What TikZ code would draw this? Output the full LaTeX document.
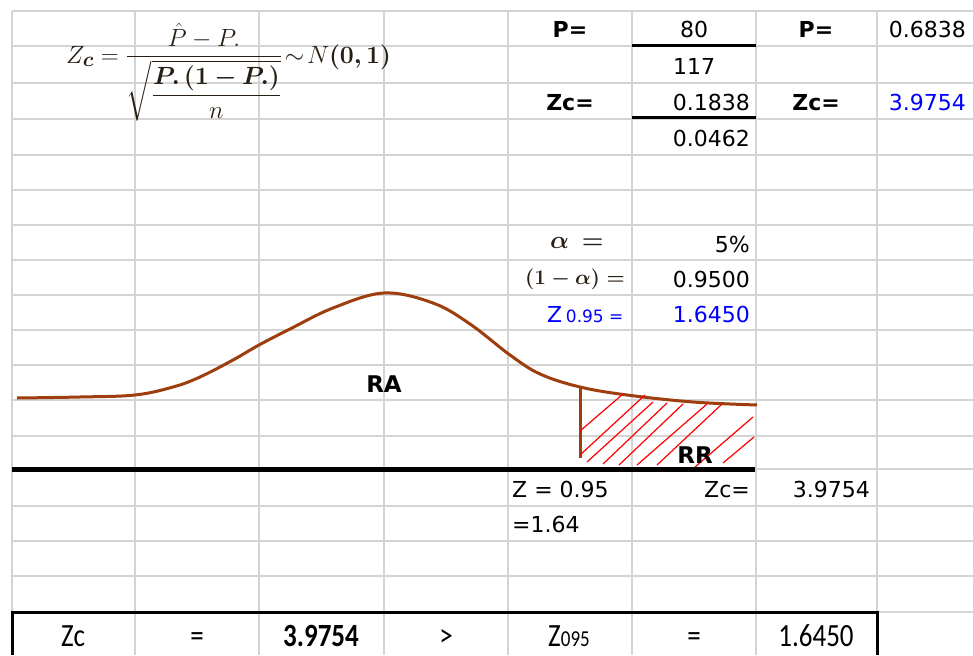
\documentclass[tikz,border=0pt]{standalone}
\usepackage{amsmath,bm}
\usepackage{graphicx}
\usepackage{fontspec}
\newfontfamily\dvfont{DejaVu Sans}
\newfontfamily\clfont{Carlito}
\definecolor{gridgray}{RGB}{212,212,212}
\definecolor{curvebrown}{RGB}{158,62,14}
\definecolor{xblue}{RGB}{0,0,255}
\definecolor{mathdark}{RGB}{40,30,20}
\begin{document}
\begin{tikzpicture}[x=1pt,y=-1pt,
  gridline/.style={draw=gridgray, line width=1.5pt},
  thickrule/.style={draw=black, line width=3pt},
  curveline/.style={draw=curvebrown, line width=3pt},
  hatchline/.style={draw=red, line width=1.2pt},
  txt/.style={font=\dvfont\fontsize{22}{26}\selectfont, inner sep=0pt, anchor=base},
  txtr/.style={txt, anchor=base east},
  txtl/.style={txt, anchor=base west},
  boldtxt/.style={txt, font=\dvfont\bfseries\fontsize{22}{26}\selectfont},
  bigbold/.style={txt, font=\dvfont\bfseries\fontsize{23}{26}\selectfont},
  bottomtxt/.style={font=\clfont\fontsize{27}{30}\selectfont, inner sep=0pt, anchor=base},
  mathtxt/.style={text=mathdark, inner sep=0pt}
]
\useasboundingbox (0,0) rectangle (973,655);
\fill[white] (0,0) rectangle (973,655);
% grid
\foreach \x in {12,135,259,384,508,632,756,877}
  \draw[gridline] (\x,11) -- (\x,655);
\foreach \y in {11,46,83,119,155,190,225,260,295,330,365,400,436,469,506,541,576,612}
  \draw[gridline] (12,\y) -- (973,\y);
% thick rules
\draw[thickrule] (632,46) -- (756,46);
\draw[thickrule] (632,118) -- (756,118);
\draw[draw=black, line width=5pt] (12,469) -- (755,469);
\draw[thickrule] (12,655) -- (12,612) -- (877,612) -- (877,655);

% formula
\node[mathtxt, anchor=west, font=\fontsize{28}{32}\selectfont] (formula) at (66,72)
  {$Z_{\bm{c}} = \dfrac{\hat{P} - P.}{\sqrt{\dfrac{\bm{P.\,(1-P.)}}{n}}}\!\sim\! N\bm{(0,1)}$};

% top right values
\node[boldtxt] (pA) at (570,38) {P=};
\node[txt] (v80) at (694,38) {80};
\node[txt] (v117) at (694,75) {117};
\node[boldtxt] (zcA) at (570,111) {Zc=};
\node[txtr] (v1838) at (750,111) {0.1838};
\node[txtr] (v0462) at (750,147) {0.0462};
\node[boldtxt] (pB) at (816,38) {P=};
\node[txtr] (v6838) at (966,38) {0.6838};
\node[boldtxt] (zcB) at (816,111) {Zc=};
\node[txtr, text=xblue] (vzc) at (966,111) {3.9754};

% alpha block
\node[mathtxt, anchor=base west, font=\fontsize{27}{30}\selectfont\boldmath] (alab) at (550,248) {$\alpha\,=$};
\node[txtr] (v5) at (750,252) {5\%};
\node[mathtxt, anchor=base west, font=\fontsize{20}{24}\selectfont\boldmath] (oma) at (525,284) {$(1-\alpha)=$};
\node[txtr] (v95) at (750,287) {0.9500};
\node[txtl, text=xblue] (zlab) at (547,322) {Z\,{\fontsize{17}{20}\selectfont 0.95 =}};
\node[txtr, text=xblue] (v1645) at (750,322) {1.6450};

% curve
\draw[curveline] plot[smooth, tension=0.6] coordinates {
  (17,398) (80,397) (135,395) (173,387) (200,377) (233,360) (259,345) (290,329)
  (333,308) (384,293) (433,303) (470,324) (510,355) (540,374) (580,387) (627,395)
  (693,402) (757,405)};
\draw[curveline] (580,387) -- (580,458);
% hatching
\foreach \a/\b/\c/\d in {580/431/623/394, 580/455/645/395, 587/462/653/402,
  603/464/667/403, 619/465/683/404, 637/465/707/404, 657/465/722/404,
  695/467/753/417, 723/463/754/437}
  \draw[hatchline] (\a,\b) -- (\c,\d);
\node[bigbold] (ra) at (384,392) {RA};
\node[bigbold] (rr) at (695,463) {RR};

% lower values
\node[txtl] (z095) at (512,497) {Z = 0.95};
\node[txtl] (v164) at (512,532) {=1.64};
\node[txtr] (zcC) at (750,497) {Zc=};
\node[txtr] (vzcC) at (870,497) {3.9754};

% bottom row
\node[bottomtxt] (bzc) at (73,646) {\scalebox{1}[1.2]{Zc}};
\node[bottomtxt] (beq1) at (197,646) {\scalebox{1}[1.2]{=}};
\node[bottomtxt, font=\clfont\bfseries\fontsize{27}{30}\selectfont] (bval) at (321,646) {\scalebox{1}[1.2]{3.9754}};
\node[bottomtxt] (bgt) at (446,646) {\scalebox{1}[1.2]{>}};
\node[bottomtxt] (bz) at (569,646) {\scalebox{1}[1.2]{Z{\fontsize{19}{22}\selectfont 095}}};
\node[bottomtxt] (beq2) at (694,646) {\scalebox{1}[1.2]{=}};
\node[bottomtxt] (bcrit) at (816,646) {\scalebox{1}[1.2]{1.6450}};
\end{tikzpicture}
\end{document}
